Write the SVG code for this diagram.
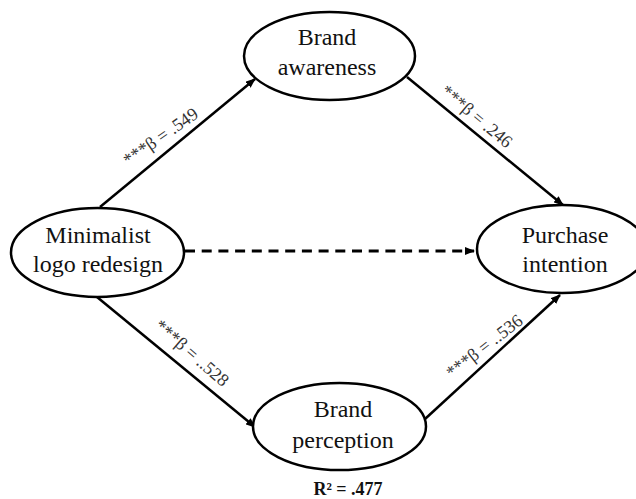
<svg xmlns="http://www.w3.org/2000/svg" width="636" height="499" viewBox="0 0 636 499">
<style>
.node{fill:#fff;stroke:#000;stroke-width:2.5}
.edge{stroke:#000;stroke-width:2.5;fill:none}
.dash{stroke:#000;stroke-width:3;fill:none;stroke-dasharray:10 6.7}
</style>
<defs>
<marker id="ah" markerWidth="10" markerHeight="8" refX="9" refY="4" orient="auto" markerUnits="userSpaceOnUse">
<path d="M0,0 L10,4 L0,8 Z" fill="#000"/>
</marker>
</defs>
<rect width="636" height="499" fill="#fff"/>
<g id="connectors">
<line class="edge" x1="100" y1="207" x2="255" y2="79" marker-end="url(#ah)"/>
<line class="edge" x1="407" y1="77" x2="563" y2="205" marker-end="url(#ah)"/>
<line class="edge" x1="97" y1="297" x2="255" y2="427" marker-end="url(#ah)"/>
<line class="edge" x1="425" y1="419" x2="560" y2="295" marker-end="url(#ah)"/>
<line class="dash" x1="185" y1="251" x2="474" y2="251" marker-end="url(#ah)"/>
<g font-family="'Liberation Serif', 'Times New Roman', serif" font-size="18" fill="#333" text-anchor="middle">
<text transform="translate(164,141.5) rotate(-35)">***β = .549</text>
<text transform="translate(473,121) rotate(40)">***β = .246</text>
<text transform="translate(188,357.5) rotate(41)">***β = ..528</text>
<text transform="translate(488,351) rotate(-38)">***β = ..536</text>
</g>
</g>
<g id="brand-awareness" font-family="'Liberation Serif', 'Times New Roman', serif" font-size="24" fill="#111" text-anchor="middle">
<ellipse class="node" cx="329.5" cy="56" rx="85.5" ry="44"/>
<text x="327" y="45">Brand</text>
<text x="327" y="75">awareness</text>
</g>
<g id="minimalist-logo" font-family="'Liberation Serif', 'Times New Roman', serif" font-size="24" fill="#111" text-anchor="middle">
<ellipse class="node" cx="97.5" cy="252.5" rx="86.5" ry="44.5"/>
<text x="98" y="243">Minimalist</text>
<text x="98" y="272">logo redesign</text>
</g>
<g id="purchase-intention" font-family="'Liberation Serif', 'Times New Roman', serif" font-size="24" fill="#111" text-anchor="middle">
<ellipse class="node" cx="562" cy="249" rx="85" ry="44"/>
<text x="565" y="243">Purchase</text>
<text x="565" y="272">intention</text>
</g>
<g id="brand-perception" font-family="'Liberation Serif', 'Times New Roman', serif" font-size="24" fill="#111" text-anchor="middle">
<ellipse class="node" cx="339.5" cy="426.5" rx="86.5" ry="43.5"/>
<text x="343" y="417">Brand</text>
<text x="343" y="448">perception</text>
<text x="348" y="495" font-size="18" font-weight="bold">R² = .477</text>
</g>
</svg>
